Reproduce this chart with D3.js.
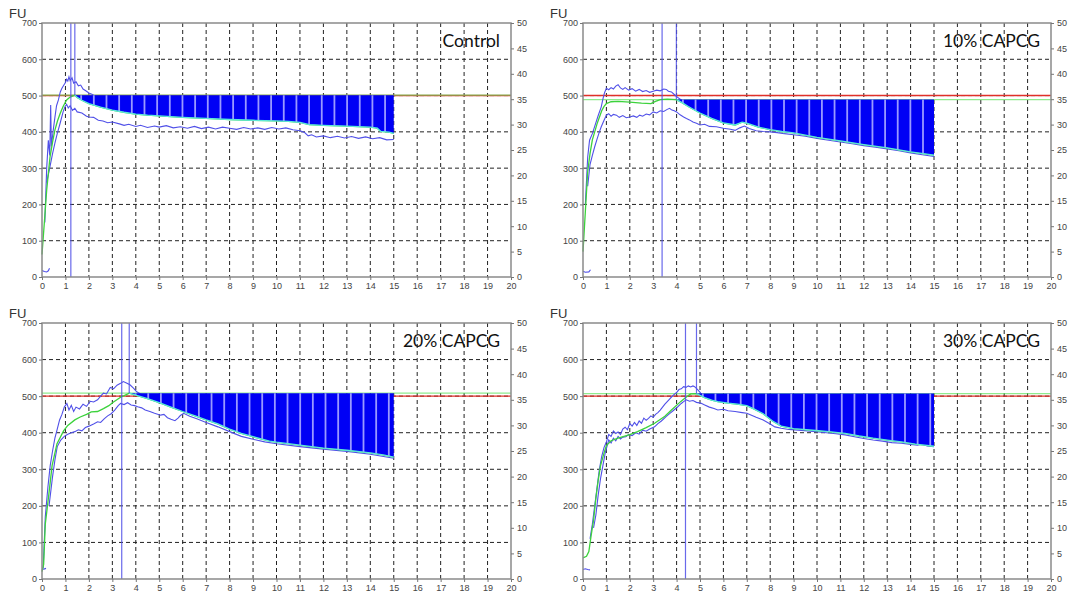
<!DOCTYPE html>
<html>
<head>
<meta charset="utf-8">
<script src="https://cdn.jsdelivr.net/npm/d3@7"></script>
<style>
  body { margin: 0; background: #fff; }
  svg { display: block; }
  .tick text { font-family: "Liberation Sans", Arial, sans-serif; font-size: 9px; fill: #444; }
  .tick line { stroke: #777; }
</style>
</head>
<body>
<svg id="chart" width="1069" height="597"></svg>
<script>
"use strict";

const TITLES = ["Control", "10% CAPCG", "20% CAPCG", "30% CAPCG"];
const X_TICKS = [0, 1, 2, 3, 4, 5, 6, 7, 8, 9, 10, 11, 12, 13, 14, 15, 16, 17, 18, 19, 20];
const Y_TICKS = [0, 100, 200, 300, 400, 500, 600, 700];
const Y2_TICKS = [0, 5, 10, 15, 20, 25, 30, 35, 40, 45, 50];

// reference levels (FU) and marker times (min), one per panel
const RED_LEVEL = [500, 500, 500, 500];
const GREEN_LEVEL = [501, 489, 508, 507];
const FILL_START = [1.4, 4.0, 3.72, 4.85];
const FILL_END = [15, 15, 15, 15];
const PEAK_LINE = [1.23, 3.38, 3.40, 4.38];
const START_LINE = [1.40, 3.99, 3.72, 4.85];

// Control
const ctlBlip = [[0, 18], [0.1, 15], [0.2, 14], [0.27, 17], [0.32, 24]];
const ctlUpper = [[0.12, 150], [0.2, 300], [0.27, 377], [0.33, 335], [0.37, 474], [0.4, 360], [0.48, 405], [0.55, 440], [0.62, 472], [0.7, 488], [0.78, 510], [0.85, 520], [0.92, 528], [1.0, 536], [1.05, 545], [1.1, 540], [1.15, 552], [1.2, 541], [1.28, 549], [1.35, 534], [1.45, 538], [1.55, 527], [1.65, 529], [1.75, 518], [1.85, 514], [2.0, 507], [2.15, 503], [2.3, 496], [2.6, 487], [3.0, 480], [3.5, 472], [4, 466], [5, 460], [6, 456], [7, 453], [8, 450], [9, 447], [10, 445], [11, 440], [11.5, 432], [12, 428], [13, 425], [14, 421], [14.5, 414], [15, 408]];
const ctlMedian = [[0, 62], [0.1, 150], [0.2, 240], [0.34, 330], [0.45, 372], [0.55, 405], [0.66, 430], [0.77, 450], [0.9, 470], [1.05, 488], [1.2, 496], [1.4, 501], [1.5, 495], [1.7, 487], [2, 478], [2.5, 468], [3, 460], [3.5, 454], [4, 449], [4.5, 446], [5, 444], [6, 440], [7, 437], [8, 434], [9, 432], [10, 430], [10.5, 429], [11, 426], [11.4, 420], [12, 418], [13, 416], [14, 413], [14.3, 410], [14.45, 401], [14.8, 399], [15, 396]];
const ctlLower = [[0.2, 260], [0.34, 304], [0.45, 340], [0.55, 369], [0.65, 395], [0.77, 423], [0.9, 455], [0.98, 469], [1.05, 476], [1.12, 466], [1.2, 472], [1.3, 459], [1.4, 465], [1.5, 455], [1.7, 452], [1.9, 443], [2.0, 441], [2.2, 440], [2.4, 432], [2.6, 430], [2.8, 425], [3.0, 427], [3.3, 422], [3.5, 418], [3.7, 421], [4.0, 415], [4.2, 418], [4.5, 412], [4.8, 416], [5.0, 413], [5.3, 417], [5.6, 411], [5.9, 414], [6.2, 410], [6.5, 415], [6.8, 409], [7.1, 413], [7.4, 408], [7.7, 413], [8.0, 410], [8.3, 407], [8.6, 412], [8.9, 408], [9.2, 411], [9.5, 407], [9.8, 412], [10.1, 408], [10.4, 411], [10.7, 406], [11.0, 403], [11.2, 398], [11.35, 389], [11.5, 392], [11.7, 386], [12.0, 389], [12.3, 384], [12.6, 388], [12.9, 383], [13.2, 387], [13.5, 382], [13.8, 386], [14.1, 381], [14.4, 384], [14.7, 378], [15.0, 379]];

// 10% CAPCG
const p10Blip = [[0, 16], [0.1, 13], [0.25, 14], [0.32, 20]];
const p10Upper = [[0.1, 200], [0.2, 330], [0.28, 377], [0.4, 395], [0.5, 415], [0.65, 445], [0.78, 469], [0.85, 490], [0.92, 508], [1.0, 520], [1.1, 516], [1.2, 522], [1.3, 518], [1.4, 526], [1.5, 530], [1.6, 521], [1.7, 517], [1.8, 522], [1.95, 515], [2.1, 519], [2.25, 512], [2.4, 517], [2.55, 511], [2.7, 514], [2.85, 509], [3.0, 512], [3.15, 515], [3.3, 513], [3.45, 518], [3.56, 517], [3.65, 512], [3.78, 510], [3.9, 503], [4.0, 497], [4.2, 488], [4.5, 478], [5, 462], [6, 436], [7, 432], [8, 414], [9, 402], [10, 390], [11, 380], [12, 370], [13, 361], [14, 350], [15, 340]];
const p10Median = [[0, 70], [0.1, 180], [0.2, 290], [0.3, 340], [0.4, 378], [0.5, 400], [0.6, 422], [0.7, 440], [0.8, 458], [0.9, 470], [1.0, 478], [1.2, 483], [1.5, 484], [2.0, 482], [2.5, 479], [2.9, 478], [3.1, 484], [3.3, 489], [3.6, 490], [4.0, 489], [4.25, 480], [4.5, 470], [5, 452], [5.5, 437], [6, 425], [6.5, 419], [6.8, 427], [7.0, 424], [7.5, 413], [8, 406], [8.5, 401], [9, 397], [10, 385], [11, 375], [12, 365], [13, 356], [14, 345], [15, 336]];
const p10Lower = [[0.2, 250], [0.3, 310], [0.4, 335], [0.5, 359], [0.6, 380], [0.7, 400], [0.78, 414], [0.9, 432], [1.0, 446], [1.1, 450], [1.2, 443], [1.3, 448], [1.43, 446], [1.55, 440], [1.7, 445], [1.85, 439], [2.0, 441], [2.15, 444], [2.3, 440], [2.42, 446], [2.55, 443], [2.7, 449], [2.85, 447], [3.0, 455], [3.15, 452], [3.3, 458], [3.45, 456], [3.6, 462], [3.7, 465], [3.8, 460], [3.9, 458], [4.0, 455], [4.15, 447], [4.3, 441], [4.42, 437], [4.55, 433], [4.7, 427], [4.85, 424], [5.0, 419], [5.2, 421], [5.4, 415], [5.7, 414], [6.0, 410], [6.3, 407], [6.5, 404], [6.7, 411], [6.9, 416], [7.1, 409], [7.4, 403], [7.7, 401], [8.0, 400], [8.3, 398], [8.6, 395], [9.0, 392], [9.5, 388], [10, 382], [10.5, 377], [11, 372], [11.5, 367], [12, 362], [12.5, 358], [13, 353], [13.5, 348], [14, 342], [14.5, 337], [15, 332]];

// 20% CAPCG
const p20Blip = [[0, 28], [0.08, 27], [0.17, 29]];
const p20Upper = [[0.05, 30], [0.14, 170], [0.25, 250], [0.35, 310], [0.45, 350], [0.55, 385], [0.65, 410], [0.75, 435], [0.85, 450], [0.95, 470], [1.06, 480], [1.15, 462], [1.25, 475], [1.35, 458], [1.45, 470], [1.6, 465], [1.75, 478], [1.9, 472], [2.06, 486], [2.2, 484], [2.37, 490], [2.5, 500], [2.62, 508], [2.75, 506], [2.91, 524], [3.05, 520], [3.2, 530], [3.35, 535], [3.47, 540], [3.6, 536], [3.75, 531], [3.9, 522], [4.04, 512], [4.2, 506], [4.5, 500], [5, 490], [6, 466], [7, 442], [8, 416], [9, 396], [10, 381], [12, 365], [14, 352], [15, 340]];
const p20Median = [[0, 20], [0.07, 40], [0.14, 150], [0.28, 225], [0.43, 310], [0.64, 370], [0.92, 405], [1.1, 420], [1.4, 435], [1.63, 443], [1.9, 450], [2.1, 457], [2.37, 458], [2.62, 466], [2.85, 474], [3.05, 484], [3.35, 497], [3.55, 503], [3.72, 508], [4, 503], [4.5, 493], [5, 482], [5.5, 470], [6, 458], [6.5, 447], [7, 435], [7.5, 424], [8, 410], [8.5, 398], [9, 389], [9.7, 377], [10, 374], [11, 366], [12, 358], [13, 352], [14, 345], [14.6, 339], [15, 333]];
const p20Lower = [[0.3, 200], [0.45, 280], [0.55, 325], [0.65, 362], [0.8, 380], [0.95, 390], [1.1, 396], [1.25, 400], [1.4, 403], [1.55, 408], [1.7, 405], [1.85, 414], [2.0, 418], [2.2, 424], [2.37, 430], [2.5, 428], [2.65, 438], [2.8, 446], [2.95, 452], [3.1, 462], [3.25, 474], [3.35, 480], [3.5, 477], [3.65, 482], [3.8, 476], [3.95, 474], [4.08, 471], [4.25, 468], [4.4, 462], [4.6, 458], [4.8, 453], [5.06, 448], [5.2, 450], [5.35, 441], [5.5, 437], [5.67, 433], [5.8, 440], [5.9, 447], [6.04, 453], [6.3, 445], [6.6, 438], [7, 428], [7.5, 416], [8, 403], [8.5, 390], [9, 382], [9.5, 375], [10, 370], [11, 362], [12, 355], [13, 349], [14, 341], [15, 330]];

// 30% CAPCG
const p30Blip = [[0, 26], [0.1, 28], [0.2, 26], [0.3, 25]];
const p30Upper = [[0.3, 110], [0.4, 150], [0.5, 200], [0.6, 250], [0.7, 300], [0.8, 335], [0.9, 360], [1.0, 375], [1.1, 395], [1.2, 390], [1.3, 405], [1.4, 398], [1.5, 402], [1.6, 395], [1.7, 410], [1.8, 415], [1.9, 408], [2.0, 425], [2.1, 418], [2.2, 428], [2.3, 420], [2.4, 432], [2.5, 426], [2.6, 440], [2.7, 434], [2.8, 439], [2.9, 446], [3.0, 442], [3.1, 450], [3.2, 455], [3.3, 462], [3.4, 470], [3.5, 478], [3.6, 485], [3.7, 492], [3.8, 499], [3.9, 505], [4.0, 510], [4.1, 518], [4.2, 520], [4.3, 526], [4.4, 524], [4.5, 528], [4.6, 525], [4.7, 528], [4.77, 526], [4.9, 518], [5.03, 508], [5.2, 500], [5.5, 494], [6, 488], [7, 482], [7.5, 468], [8, 444], [8.5, 426], [9, 420], [10, 414], [11, 408], [12, 396], [13, 388], [14, 378], [15, 370]];
const p30Median = [[0, 58], [0.15, 62], [0.25, 75], [0.35, 120], [0.45, 160], [0.55, 220], [0.65, 270], [0.75, 310], [0.9, 345], [1.0, 365], [1.2, 378], [1.5, 385], [2.0, 395], [2.33, 403], [2.7, 414], [3.06, 426], [3.5, 445], [3.78, 462], [4.17, 485], [4.4, 497], [4.6, 506], [4.85, 507], [5.2, 496], [5.5, 489], [5.76, 485], [6.2, 481], [6.6, 478], [7, 474], [7.3, 465], [7.7, 452], [8.1, 432], [8.47, 418], [9, 411], [9.95, 406], [10.5, 403], [11.2, 398], [11.8, 391], [12.4, 385], [13, 380], [13.6, 375], [14.2, 369], [14.6, 366], [15, 363]];
const p30Lower = [[0.45, 140], [0.55, 175], [0.65, 230], [0.75, 275], [0.85, 310], [0.95, 345], [1.1, 380], [1.2, 372], [1.3, 385], [1.4, 378], [1.5, 390], [1.6, 383], [1.7, 388], [1.83, 389], [1.95, 395], [2.1, 392], [2.25, 400], [2.4, 396], [2.55, 407], [2.7, 404], [2.85, 410], [3.06, 416], [3.2, 425], [3.35, 432], [3.55, 444], [3.7, 452], [3.85, 460], [4.05, 471], [4.2, 480], [4.3, 485], [4.41, 490], [4.55, 486], [4.7, 488], [4.85, 483], [5.03, 481], [5.2, 476], [5.4, 470], [5.6, 466], [5.76, 462], [6.0, 464], [6.2, 460], [6.5, 458], [6.8, 455], [7.0, 453], [7.2, 448], [7.4, 442], [7.7, 435], [8.0, 424], [8.2, 416], [8.47, 412], [8.8, 409], [9.2, 407], [9.6, 405], [9.95, 403], [10.4, 400], [10.8, 397], [11.2, 394], [11.6, 389], [12.0, 384], [12.4, 380], [12.8, 377], [13.2, 373], [13.6, 371], [14.0, 368], [14.3, 366], [14.5, 370], [14.7, 364], [15.0, 362]];

const BLIPS = [ctlBlip, p10Blip, p20Blip, p30Blip];
const UPPERS = [ctlUpper, p10Upper, p20Upper, p30Upper];
const MEDIANS = [ctlMedian, p10Median, p20Median, p30Median];
const LOWERS = [ctlLower, p10Lower, p20Lower, p30Lower];

// panel boxes in px
const BOXES = [
    { left: 42, top: 23, right: 511, bottom: 277 },
    { left: 583, top: 23, right: 1051, bottom: 277 },
    { left: 42, top: 323, right: 511, bottom: 579 },
    { left: 583, top: 323, right: 1051, bottom: 579 }
];

const BLUE = "#5050e8";
const svg = d3.select("#chart");

function drawPanel(i) {
    const b = BOXES[i];
    const x = d3.scaleLinear().domain([0, 20]).range([b.left, b.right]);
    const y = d3.scaleLinear().domain([0, 700]).range([b.bottom, b.top]);
    const y2 = d3.scaleLinear().domain([0, 50]).range([b.bottom, b.top]);
    const g = svg.append("g");
    const line = d3.line().x(d => x(d[0])).y(d => y(d[1]));

    // dashed grid
    g.selectAll(".vg").data(X_TICKS.filter(t => t > 0 && t < 20)).join("line")
        .attr("x1", d => x(d)).attr("x2", d => x(d))
        .attr("y1", b.top).attr("y2", b.bottom)
        .attr("stroke", "#222").attr("stroke-dasharray", "4,3");
    g.selectAll(".hg").data(Y_TICKS.filter(t => t > 0 && t < 700)).join("line")
        .attr("x1", b.left).attr("x2", b.right)
        .attr("y1", d => y(d)).attr("y2", d => y(d))
        .attr("stroke", "#222").attr("stroke-dasharray", "4,3");

    // reference lines (green drawn a bit see-through so an overlap reads olive)
    g.append("line").attr("x1", b.left).attr("x2", b.right)
        .attr("y1", y(RED_LEVEL[i])).attr("y2", y(RED_LEVEL[i]))
        .attr("stroke", "#e0302a").attr("stroke-width", 1.4);
    g.append("line").attr("x1", b.left).attr("x2", b.right)
        .attr("y1", y(GREEN_LEVEL[i])).attr("y2", y(GREEN_LEVEL[i]))
        .attr("stroke", "#5fe35f").attr("stroke-width", 1.3).attr("stroke-opacity", 0.7);

    // min / max traces and median
    [BLIPS[i], UPPERS[i], LOWERS[i]].forEach(s => {
        g.append("path").attr("d", line(s)).attr("fill", "none")
            .attr("stroke", BLUE).attr("stroke-width", 1.1);
    });
    g.append("path").attr("d", line(MEDIANS[i])).attr("fill", "none")
        .attr("stroke", "#3cd23c").attr("stroke-width", 1.3);

    // shaded band between reference and median
    const fillPts = MEDIANS[i].filter(d => d[0] >= FILL_START[i] && d[0] <= FILL_END[i]);
    const area = d3.area().x(d => x(d[0])).y0(y(GREEN_LEVEL[i])).y1(d => y(d[1]));
    svg.append("clipPath").attr("id", "band" + i)
        .append("path").attr("d", area(fillPts));
    g.append("path").attr("d", area(fillPts)).attr("fill", "#0000f5");
    g.append("g").attr("clip-path", "url(#band" + i + ")")
        .selectAll("line").data(d3.range(FILL_START[i] + 0.27, FILL_END[i], 0.54)).join("line")
        .attr("x1", d => x(d)).attr("x2", d => x(d))
        .attr("y1", b.top).attr("y2", b.bottom)
        .attr("stroke", "#9a9aff").attr("stroke-width", 1.8);
    g.append("path").attr("d", line(fillPts)).attr("fill", "none")
        .attr("stroke", "#5ee8d8").attr("stroke-width", 1.3);

    // marker lines
    g.append("line").attr("x1", x(PEAK_LINE[i])).attr("x2", x(PEAK_LINE[i]))
        .attr("y1", b.top).attr("y2", b.bottom)
        .attr("stroke", BLUE).attr("stroke-width", 1.2).attr("opacity", 0.85);
    g.append("line").attr("x1", x(START_LINE[i])).attr("x2", x(START_LINE[i]))
        .attr("y1", b.top).attr("y2", y(GREEN_LEVEL[i]))
        .attr("stroke", BLUE).attr("stroke-width", 1.2).attr("opacity", 0.85);

    // frame
    g.append("rect").attr("x", b.left).attr("y", b.top)
        .attr("width", b.right - b.left).attr("height", b.bottom - b.top)
        .attr("fill", "none").attr("stroke", "#8a8a8a").attr("stroke-width", 1.5);

    // axes
    const ax = g.append("g").attr("transform", `translate(${b.left},0)`)
        .call(d3.axisLeft(y).tickValues(Y_TICKS).tickSize(3).tickPadding(2));
    const ax2 = g.append("g").attr("transform", `translate(${b.right},0)`)
        .call(d3.axisRight(y2).tickValues(Y2_TICKS).tickSize(3).tickPadding(3));
    const ax3 = g.append("g").attr("transform", `translate(0,${b.bottom})`)
        .call(d3.axisBottom(x).tickValues(X_TICKS).tickSize(3).tickPadding(3));
    [ax, ax2, ax3].forEach(a => a.select(".domain").remove());

    g.append("text").attr("x", b.left - 33).attr("y", b.top - 5)
        .attr("font-family", "'Liberation Sans', Arial, sans-serif")
        .attr("font-size", 13).attr("fill", "#333").text("FU");

    g.append("text").attr("x", b.right - 11).attr("y", b.top + 24)
        .attr("text-anchor", "end")
        .attr("font-family", "Lato, 'Open Sans', sans-serif")
        .attr("font-size", 17.5).attr("fill", "#111").text(TITLES[i]);
}

[0, 1, 2, 3].forEach(drawPanel);
</script>
</body>
</html>
